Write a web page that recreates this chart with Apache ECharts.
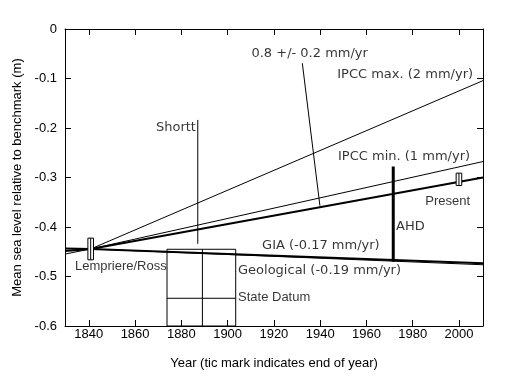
<!DOCTYPE html>
<html>
<head>
<meta charset="utf-8">
<script src="https://cdn.jsdelivr.net/npm/echarts@6/dist/echarts.min.js"></script>
<style>html,body{margin:0;padding:0;background:#fff}#c{width:505px;height:381px}</style>
</head>
<body>
<div id="c"></div>
<script>
// ---- data ----
const yearRange = [1829.7, 2010.4];
const yearTicks = [1840, 1860, 1880, 1900, 1920, 1940, 1960, 1980, 2000];
const levelRange = [-0.6, 0];
const levelTicks = [0, -0.1, -0.2, -0.3, -0.4, -0.5, -0.6];

// trend lines [year, level]
const trend08 = [[1829.7, -0.4485], [1840.8, -0.4444], [2010.4, -0.300]];
const ipccMax = [[1840.8, -0.4444], [2010.4, -0.1043]];
const ipccMin = [[1829.7, -0.4547], [1840.8, -0.4444], [2010.4, -0.2678]];
const gia = [[1829.7, -0.4434], [1840.8, -0.4444], [2010.4, -0.4733]];
const geological = [[1840.8, -0.4444], [2010.4, -0.4763]];
const shortt = [[1887.1, -0.1837], [1887.1, -0.434]];
const ahd = [[1971.6, -0.278], [1971.6, -0.470]];
const leader08 = [[1932.3, -0.0692], [1939.9, -0.357]];

// observations with uncertainty [year, level, +/-]
const observations = [[1840.8, -0.4444, 0.0219], [2000.0, -0.3037, 0.0125]];

// geological / state datum box: years [left, middle, right], levels [top, state datum]
const geoBoxYears = [1873.8, 1889.1, 1903.5];
const geoBoxLevels = [-0.445, -0.544];

// annotations [text, year, level, align]
const annoTexts = ['0.8 +/- 0.2 mm/yr', 'IPCC max. (2 mm/yr)', 'Shortt', 'IPCC min. (1 mm/yr)', 'Present', 'AHD',
  'GIA (-0.17 mm/yr)', 'Geological (-0.19 mm/yr)', 'State Datum', 'Lempriere/Ross'];
const annoYears = [1910.3, 2006.1, 1886.3, 2004.8, 2004.8, 1972.8, 1914.9, 1904.5, 1904.5, 1834.0];
const annoLevels = [-0.0505, -0.093, -0.200, -0.258, -0.349, -0.400, -0.438, -0.488, -0.543, -0.480];
const annoAlign = ['left', 'right', 'right', 'right', 'right', 'left', 'left', 'left', 'left', 'left'];
const annoWide = [true, true, true, true, false, true, true, true, false, false];

// ---- chart ----
const FONT = '"Liberation Sans", Arial, Helvetica, sans-serif';
const FONT_WIDE = '"DejaVu Sans", "Liberation Sans", sans-serif';
const chart = echarts.init(document.getElementById('c'), null, {renderer: 'canvas'});

function lineSeries(data, width, z) {
  return {type: 'line', data: data, symbol: 'none', silent: true, animation: false, z: z || 2,
    lineStyle: {color: '#000', width: width}, xAxisIndex: 0, yAxisIndex: 0};
}

const axisCommon = {
  axisLine: {show: true, onZero: false, lineStyle: {color: '#000', width: 1}},
  splitLine: {show: false},
};

const option = {
  backgroundColor: '#fff',
  animation: false,
  grid: {left: 65, right: 22, top: 29, bottom: 55},
  xAxis: [
    Object.assign({}, axisCommon, {
      type: 'value', position: 'bottom', min: yearRange[0], max: yearRange[1],
      name: 'Year (tic mark indicates end of year)', nameLocation: 'middle', nameGap: 31,
      nameTextStyle: {fontFamily: FONT, fontSize: 13, color: '#000'},
      axisTick: {show: true, inside: true, length: 6, customValues: yearTicks, lineStyle: {color: '#000'}},
      axisLabel: {show: true, customValues: yearTicks, margin: 2, fontFamily: FONT, fontSize: 13, color: '#000',
        formatter: function (v) { return String(Math.round(v)); }}
    }),
    Object.assign({}, axisCommon, {
      type: 'value', position: 'top', min: yearRange[0], max: yearRange[1],
      axisTick: {show: true, inside: true, length: 6, customValues: yearTicks, lineStyle: {color: '#000'}},
      axisLabel: {show: false}
    })
  ],
  yAxis: [
    Object.assign({}, axisCommon, {
      type: 'value', position: 'left', min: levelRange[0], max: levelRange[1], interval: 0.1,
      name: 'Mean sea level relative to benchmark (m)', nameLocation: 'middle', nameGap: 35,
      nameTextStyle: {fontFamily: FONT, fontSize: 13, color: '#000'},
      axisTick: {show: true, inside: true, length: 6, customValues: levelTicks, lineStyle: {color: '#000'}},
      axisLabel: {show: true, customValues: levelTicks, margin: 8, fontFamily: FONT, fontSize: 13, color: '#000',
        formatter: function (v) { return Math.abs(v) < 1e-9 ? '0' : v.toFixed(1); }}
    }),
    Object.assign({}, axisCommon, {
      type: 'value', position: 'right', min: levelRange[0], max: levelRange[1], interval: 0.1,
      axisTick: {show: true, inside: true, length: 6, customValues: levelTicks, lineStyle: {color: '#000'}},
      axisLabel: {show: false}
    })
  ],
  series: [
    lineSeries(ipccMax, 1),
    lineSeries(ipccMin, 1),
    lineSeries(trend08, 2.2, 3),
    lineSeries(gia, 2, 3),
    lineSeries(geological, 1),
    lineSeries(shortt, 1),
    lineSeries(ahd, 3, 4),
    lineSeries(leader08, 1),
    {
      type: 'custom', silent: true, animation: false, z: 5, xAxisIndex: 0, yAxisIndex: 0,
      data: [[geoBoxYears[0], geoBoxYears[1], geoBoxYears[2], geoBoxLevels[0], geoBoxLevels[1]]],
      renderItem: function (params, api) {
        const tl = api.coord([api.value(0), api.value(3)]);
        const br = api.coord([api.value(2), levelRange[0]]);
        const mTop = api.coord([api.value(1), api.value(3)]);
        const sdL = api.coord([api.value(0), api.value(4)]);
        const sdR = api.coord([api.value(2), api.value(4)]);
        const st = {stroke: '#000', lineWidth: 1, fill: null};
        return {type: 'group', children: [
          {type: 'rect', shape: {x: tl[0], y: tl[1], width: br[0] - tl[0], height: br[1] - tl[1]}, style: st},
          {type: 'line', shape: {x1: mTop[0], y1: mTop[1], x2: mTop[0], y2: br[1]}, style: st},
          {type: 'line', shape: {x1: sdL[0], y1: sdL[1], x2: sdR[0], y2: sdR[1]}, style: st}
        ]};
      }
    },
    {
      type: 'custom', silent: true, animation: false, z: 6, xAxisIndex: 0, yAxisIndex: 0,
      data: observations,
      renderItem: function (params, api) {
        const x = api.value(0), y = api.value(1), e = api.value(2);
        const top = api.coord([x, y + e]);
        const bot = api.coord([x, y - e]);
        const hw = 2.8;
        return {type: 'group', children: [
          {type: 'rect', shape: {x: top[0] - hw, y: top[1], width: 2 * hw, height: bot[1] - top[1]},
            style: {fill: '#fff', stroke: '#000', lineWidth: 1}},
          {type: 'line', shape: {x1: top[0], y1: top[1], x2: bot[0], y2: bot[1]}, style: {stroke: '#000', lineWidth: 1}}
        ]};
      }
    },
    {
      type: 'scatter', silent: true, animation: false, z: 10, symbolSize: 0, xAxisIndex: 0, yAxisIndex: 0,
      data: annoTexts.map(function (t, i) {
        return {value: [annoYears[i], annoLevels[i]], name: t,
          label: {show: true, position: [0, 0], align: annoAlign[i], verticalAlign: 'middle',
            formatter: t, fontFamily: annoWide[i] ? FONT_WIDE : FONT, fontSize: 13, color: '#000'}};
      })
    }
  ]
};
chart.setOption(option);
</script>
</body>
</html>
